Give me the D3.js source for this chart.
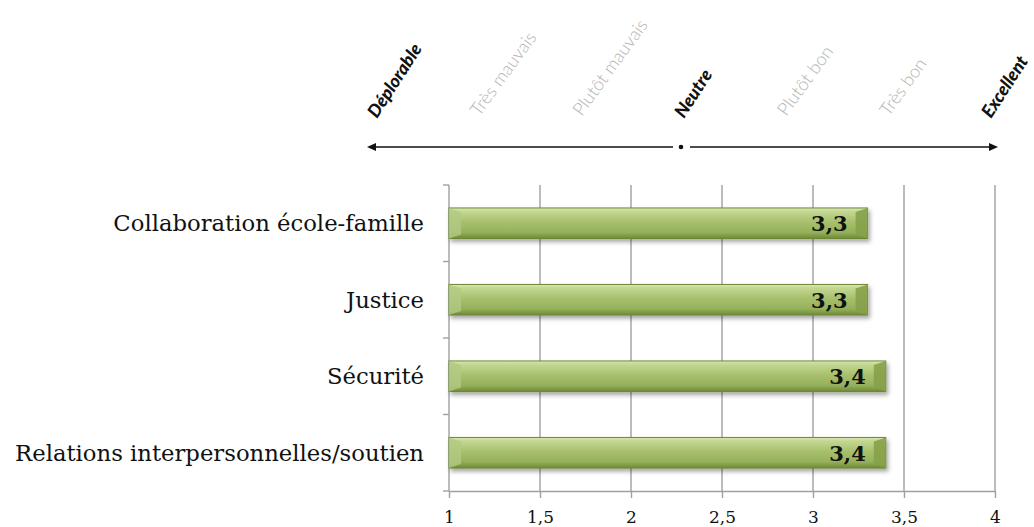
<!DOCTYPE html>
<html><head><meta charset="utf-8">
<script src="https://cdn.jsdelivr.net/npm/d3@7"></script>
<style>body{margin:0;background:#fff}svg{display:block}</style>
</head><body><svg id="c" width="1034" height="527"></svg>
<script>
const categories = ["Collaboration école-famille", "Justice", "Sécurité", "Relations interpersonnelles/soutien"];
const values = [3.3, 3.3, 3.4, 3.4];
const xTicks = [1, 1.5, 2, 2.5, 3, 3.5, 4];
const scaleLabels = ["Déplorable", "Très mauvais", "Plutôt mauvais", "Neutre", "Plutôt bon", "Très bon", "Excellent"];
const scaleStrong = [true, false, false, true, false, false, true];

const svg = d3.select("#c");
const serif = "'DejaVu Serif','Liberation Serif',serif";
const sans = "Lato,'Open Sans',sans-serif";
const m = {left: 449, right: 995, top: 185, bottom: 491};

const x = d3.scaleLinear().domain([1, 4]).range([m.left, m.right]);
const y = d3.scaleBand().domain(categories).range([m.top, m.bottom]).paddingInner(0.6).paddingOuter(0.3);
const yb = d3.scaleBand().domain(categories).range([m.top, m.bottom]);

const defs = svg.append("defs");
const g1 = defs.append("linearGradient").attr("id", "barg").attr("x1", 0).attr("y1", 0).attr("x2", 0).attr("y2", 1);
[[0, "#dbe8b4"], [0.12, "#c3d791"], [0.45, "#a8c06e"], [0.8, "#95b05a"], [1, "#6f8a38"]].forEach(s =>
  g1.append("stop").attr("offset", s[0]).attr("stop-color", s[1]));
const f = defs.append("filter").attr("id", "sh").attr("x", "-5%").attr("y", "-30%").attr("width", "115%").attr("height", "180%");
f.append("feDropShadow").attr("dx", 2).attr("dy", 3).attr("stdDeviation", 2).attr("flood-color", "#000").attr("flood-opacity", 0.35);

// gridlines
svg.append("g").selectAll("line").data(xTicks.slice(1)).join("line")
  .attr("x1", d => x(d)).attr("x2", d => x(d)).attr("y1", m.top).attr("y2", m.bottom)
  .attr("stroke", "#a0a0a0").attr("stroke-width", 1.4);

// x axis
const xa = svg.append("g").attr("transform", `translate(0,${m.bottom})`)
  .call(d3.axisBottom(x).tickValues(xTicks).tickSize(7).tickSizeOuter(0).tickFormat(d => String(d).replace(".", ",")));
xa.select(".domain").attr("stroke", "#a0a0a0").attr("stroke-width", 1.4);
xa.selectAll(".tick line").attr("stroke", "#a0a0a0").attr("stroke-width", 1.4);
xa.selectAll(".tick text").attr("font-family", serif).attr("font-size", 17).attr("fill", "#111").attr("dy", 0).attr("y", 32);

// y axis line + ticks at band boundaries
svg.append("line").attr("x1", m.left).attr("x2", m.left).attr("y1", m.top).attr("y2", m.bottom)
  .attr("stroke", "#a0a0a0").attr("stroke-width", 1.4);
const bounds = categories.map(c => yb(c)).concat([m.bottom]);
svg.append("g").selectAll("line").data(bounds).join("line")
  .attr("x1", m.left - 6).attr("x2", m.left).attr("y1", d => d).attr("y2", d => d)
  .attr("stroke", "#a0a0a0").attr("stroke-width", 1.4);

// category labels (font size fitted so the longest label spans the same width as in the reference)
const cl = svg.append("g").selectAll("text").data(categories).join("text")
  .attr("x", m.left - 25).attr("y", d => yb(d) + yb.bandwidth() / 2 + 8)
  .attr("text-anchor", "end").attr("font-family", serif).attr("font-size", 20).attr("fill", "#111")
  .text(d => d);
const maxW = d3.max(cl.nodes(), n => n.getComputedTextLength());
const fs = Math.min(24, 20 * 409 / maxW);
cl.attr("font-size", fs);

// bars
const bars = svg.append("g").selectAll("g").data(categories).join("g");
const bw = 12, bt = 4;
bars.append("rect").attr("x", x(1)).attr("y", d => y(d)).attr("width", (d, i) => x(values[i]) - x(1))
  .attr("height", y.bandwidth()).attr("fill", "url(#barg)").attr("stroke", "#6d8836").attr("stroke-width", 1)
  .attr("filter", "url(#sh)");
bars.append("polygon").attr("points", (d, i) => {
  const x1 = x(values[i]), y0 = y(d), y1 = y0 + y.bandwidth();
  return [[x1 - bw, y0 + bt], [x1, y0], [x1, y1], [x1 - bw, y1 - bt]].join(" ");
}).attr("fill", "#86a14a").attr("opacity", 0.9);
bars.append("polygon").attr("points", (d, i) => {
  const x0 = x(1), y0 = y(d), y1 = y0 + y.bandwidth();
  return [[x0, y0], [x0 + bw, y0 + bt], [x0 + bw, y1 - bt], [x0, y1]].join(" ");
}).attr("fill", "#b2c983").attr("opacity", 0.8);
bars.append("text").attr("x", (d, i) => x(values[i]) - 20).attr("y", d => y(d) + y.bandwidth() / 2 + 8)
  .attr("text-anchor", "end").attr("font-family", serif).attr("font-weight", "bold").attr("font-size", 21)
  .attr("fill", "#111").text((d, i) => String(values[i]).replace(".", ","));

// top qualitative scale
const ts = d3.scaleLinear().domain([0, 6]).range([374, 988]);
const ay = 147;
svg.append("line").attr("x1", 372).attr("x2", ts(3) - 8).attr("y1", ay).attr("y2", ay).attr("stroke", "#111").attr("stroke-width", 1.3);
svg.append("line").attr("x1", ts(3) + 9).attr("x2", 993).attr("y1", ay).attr("y2", ay).attr("stroke", "#111").attr("stroke-width", 1.3);
svg.append("path").attr("d", `M367,${ay} L376,${ay - 4} L376,${ay + 4} Z`).attr("fill", "#111");
svg.append("path").attr("d", `M998,${ay} L989,${ay - 4} L989,${ay + 4} Z`).attr("fill", "#111");
svg.append("circle").attr("cx", ts(3)).attr("cy", ay).attr("r", 2.3).attr("fill", "#111");

svg.append("g").selectAll("text").data(scaleLabels).join("text")
  .attr("transform", (d, i) => `translate(${ts(i) + 3},${scaleStrong[i] ? 119 : 117}) rotate(${scaleStrong[i] ? -57 : -54})`)
  .attr("font-family", sans)
  .attr("font-size", 18)
  .attr("font-weight", (d, i) => scaleStrong[i] ? "900" : "300")
  .attr("font-style", (d, i) => scaleStrong[i] ? "italic" : "normal")
  .attr("fill", (d, i) => scaleStrong[i] ? "#111" : "#b4b4b4")
  .text(d => d);
</script></body></html>
